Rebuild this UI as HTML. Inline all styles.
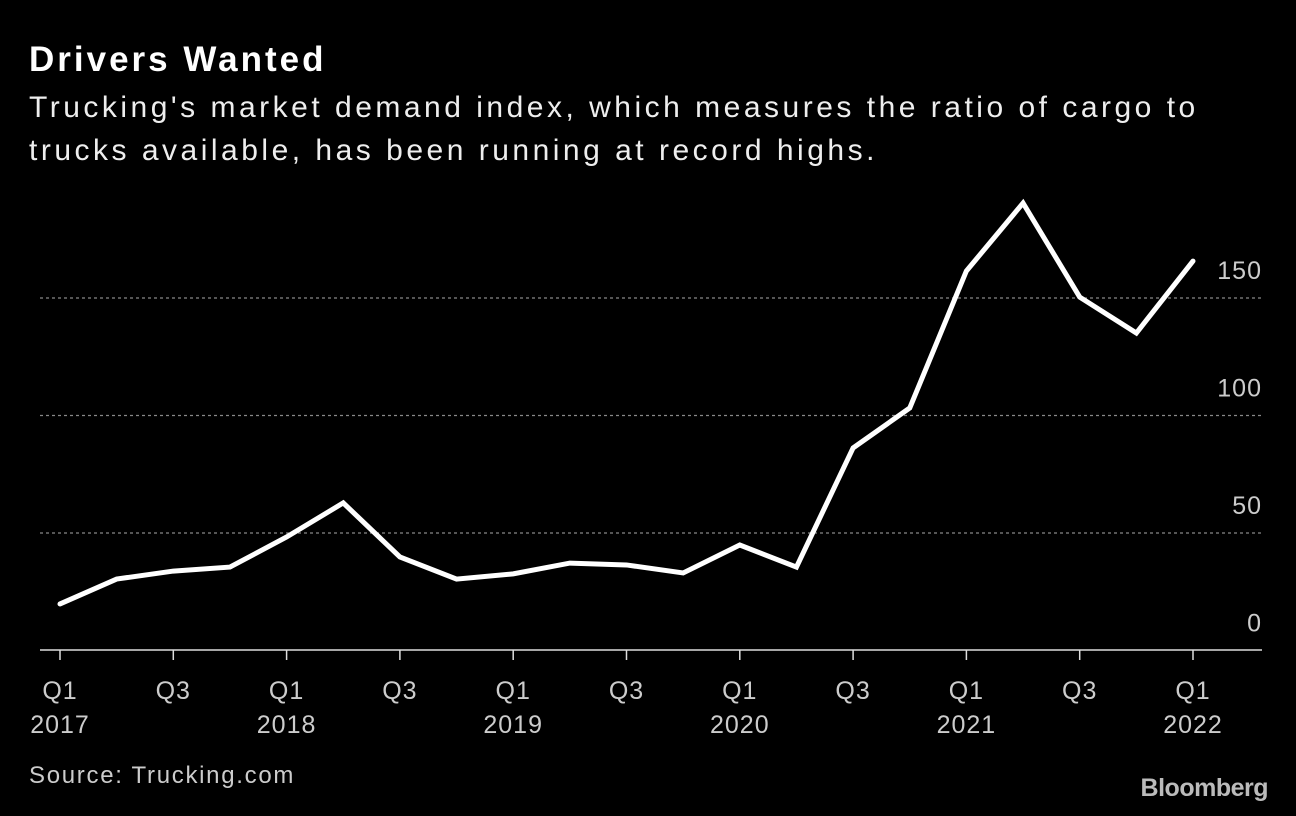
<!DOCTYPE html>
<html><head><meta charset="utf-8"><style>
body{margin:0;background:#000;width:1296px;height:816px;overflow:hidden;font-family:"Liberation Sans",sans-serif;color:#fff}
.t{position:absolute;left:29px;top:40px;font-size:35px;font-weight:bold;letter-spacing:3px}
.s{position:absolute;left:29px;top:86px;font-size:30px;line-height:43px;color:#eee;letter-spacing:3.5px;white-space:nowrap}
.src{position:absolute;left:29px;top:762px;font-size:24px;color:#ccc;letter-spacing:1.7px}
.bb{position:absolute;right:28px;top:774px;font-size:25px;font-weight:bold;color:#bbb;letter-spacing:-0.5px}
</style></head><body>
<div class="t">Drivers Wanted</div>
<div class="s">Trucking's market demand index, which measures the ratio of cargo to<br>trucks available, has been running at record highs.</div>
<svg id="c" width="1296" height="816" style="position:absolute;left:0;top:0"></svg>
<div class="src">Source: Trucking.com</div>
<div class="bb">Bloomberg</div>
<script>
const values=[19.8,30.4,33.8,35.5,48.3,62.8,39.8,30.4,32.6,37.2,36.4,33.0,44.9,35.5,86.2,103.2,161.5,190.4,150.4,135.1,165.7];
const yTicks=[0,50,100,150];
const xLabels=[["Q1","2017"],["Q3",""],["Q1","2018"],["Q3",""],["Q1","2019"],["Q3",""],["Q1","2020"],["Q3",""],["Q1","2021"],["Q3",""],["Q1","2022"]];
const svg=document.getElementById('c');const NS="http://www.w3.org/2000/svg";
const x=i=>60+i*(1193-60)/20;const y=v=>650.5-v*2.35;
function mk(t,a){const e=document.createElementNS(NS,t);for(const k in a)e.setAttribute(k,a[k]);svg.appendChild(e);return e;}
yTicks.forEach(v=>{
 if(v>0){const l=mk('line',{x1:40,x2:1262,y1:y(v),y2:y(v),stroke:'#888','stroke-width':1.3,'stroke-dasharray':'3,3'});
 
 }
 const t=mk('text',{x:1262,y:y(v)-19,'text-anchor':'end',fill:'#ccc','font-size':25,'letter-spacing':1,'font-family':'Liberation Sans, sans-serif'});t.textContent=v;
 
 
});
const ax=mk('line',{x1:40,x2:1262,y1:650,y2:650,stroke:'#ddd','stroke-width':1.5});


xLabels.forEach((lb,k)=>{const i=k*2;
 const tk=mk('line',{x1:x(i),x2:x(i),y1:650,y2:660,stroke:'#ddd','stroke-width':1.5});
 
 
 const t=mk('text',{x:x(i),y:699,'text-anchor':'middle',fill:'#ccc','font-size':25,'letter-spacing':1,'font-family':'Liberation Sans, sans-serif'});t.textContent=lb[0];
 
 
 if(lb[1]){const u=mk('text',{x:x(i),y:733,'text-anchor':'middle',fill:'#ccc','font-size':25,'letter-spacing':1,'font-family':'Liberation Sans, sans-serif'});u.textContent=lb[1];
 
 }
});
const p=mk('polyline',{points:values.map((v,i)=>x(i)+','+y(v)).join(' '),fill:'none',stroke:'#fff','stroke-width':5,'stroke-linejoin':'miter','stroke-linecap':'round'});


</script>
</body></html>
